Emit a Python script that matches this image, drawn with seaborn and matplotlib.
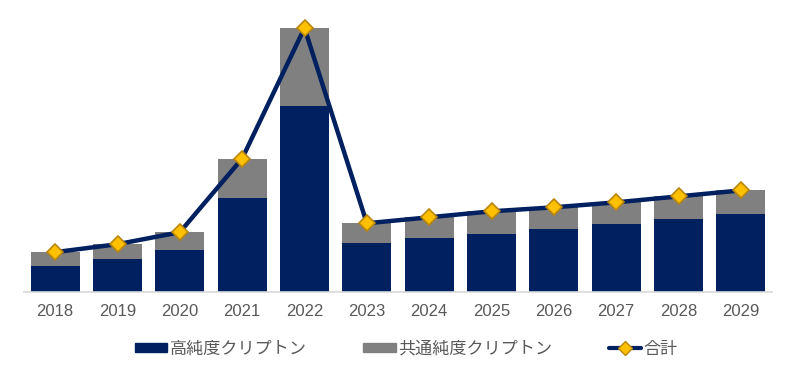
import matplotlib
matplotlib.use("Agg")
import matplotlib.pyplot as plt
import seaborn as sns
import numpy as np
import pandas as pd
from matplotlib.patches import Patch
from matplotlib.lines import Line2D

years = ["2018", "2019", "2020", "2021", "2022", "2023", "2024", "2025", "2026", "2027", "2028", "2029"]
high_purity = [26.5, 33, 42, 94, 187, 49, 54, 58, 63, 68, 73, 78]
common_purity = [13.5, 15, 18, 40, 78, 20, 21, 23, 22, 22, 23, 24]
series_names = ["高純度クリプトン", "共通純度クリプトン", "合計"]

totals = [h + c for h, c in zip(high_purity, common_purity)]

sns.set_theme(style="white")
plt.rcParams["font.family"] = ["Noto Sans CJK JP", "DejaVu Sans"]

navy = "#002060"
gray = "#808080"
gold = "#FFC000"
gold_edge = "#B8860B"
text_col = "#595959"

df = pd.DataFrame({"year": years, "high": high_purity, "total": totals})

fig = plt.figure(figsize=(8, 3.78), dpi=100)
ax = fig.add_axes([0.03, 0.2275, 0.935, 0.73])

sns.barplot(data=df, x="year", y="total", color=gray, saturation=1, width=0.79,
            linewidth=0, edgecolor="none", ax=ax, order=years)
sns.barplot(data=df, x="year", y="high", color=navy, saturation=1, width=0.79,
            linewidth=0, edgecolor="none", ax=ax, order=years)

xpos = np.arange(len(years))
ax.plot(xpos, totals, color=navy, lw=3.2, marker="D", markersize=8.5,
        markerfacecolor=gold, markeredgecolor=gold_edge, markeredgewidth=1.2, zorder=5)

ax.set_xlim(-0.5, len(years) - 0.5)
ax.set_ylim(0, 277)
ax.set_xlabel("")
ax.set_ylabel("")
ax.set_yticks([])
for s in ["top", "right", "left"]:
    ax.spines[s].set_visible(False)
ax.spines["bottom"].set_color("#d9d9d9")
ax.spines["bottom"].set_linewidth(1.2)
ax.tick_params(axis="x", length=0, pad=8.5, labelsize=12, labelcolor=text_col)
for lbl in ax.get_xticklabels():
    lbl.set_family(["Liberation Sans", "DejaVu Sans"])

handles = [
    Patch(facecolor=navy, edgecolor=navy),
    Patch(facecolor=gray, edgecolor=gray),
    Line2D([0], [0], color=navy, lw=3, marker="D", markersize=7,
           markerfacecolor=gold, markeredgecolor=gold_edge),
]
fig.legend(handles, series_names, loc="center", bbox_to_anchor=(0.508, 0.078), ncol=3,
           frameon=False, fontsize=12.3, labelcolor=text_col, handlelength=1.9,
           handleheight=0.4, handletextpad=0.15, columnspacing=3.3)

fig.savefig("out.png", dpi=100)
